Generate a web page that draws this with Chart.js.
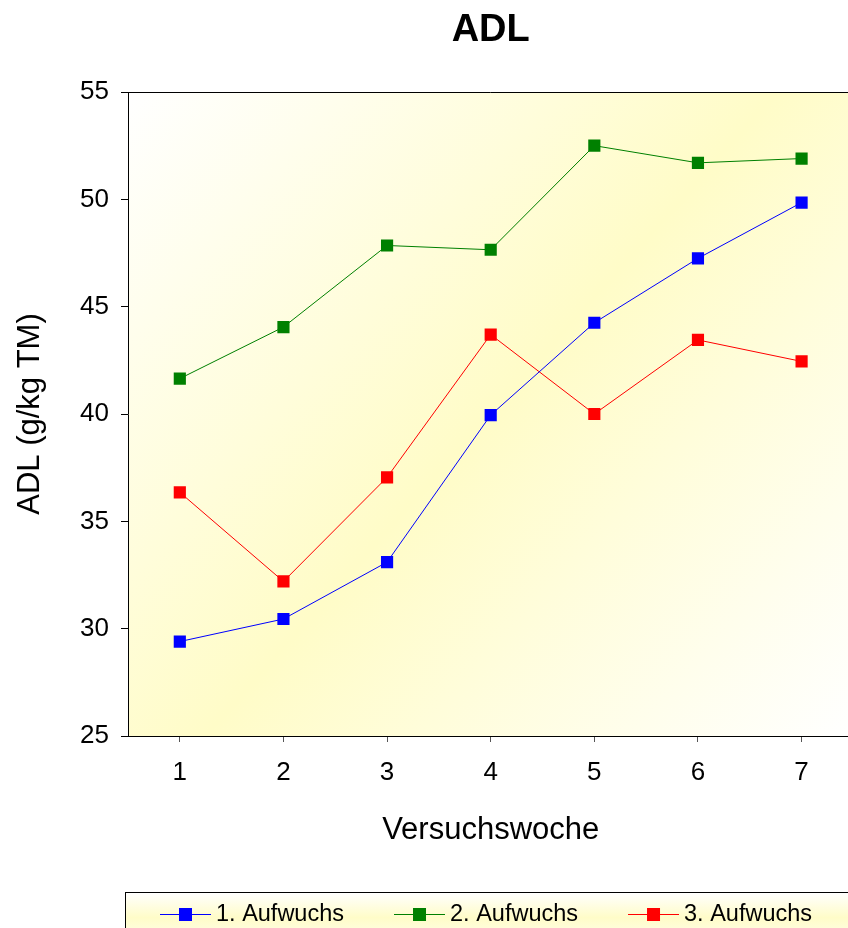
<!DOCTYPE html>
<html>
<head>
<meta charset="utf-8">
<title>ADL</title>
<script src="https://cdn.jsdelivr.net/npm/chart.js@4.4.1/dist/chart.umd.min.js"></script>
<style>
  html, body { margin: 0; padding: 0; background: #ffffff; overflow: hidden; }
  #wrap { width: 862px; height: 928px; }
</style>
</head>
<body>
<div id="wrap"><canvas id="c" width="862" height="928"></canvas></div>
<script>
// Versuchswochen (x-axis categories)
const weeks = ['1', '2', '3', '4', '5', '6', '7'];

// ADL content (g/kg TM) per growth
const aufwuchs1 = [29.4, 30.45, 33.1, 39.95, 44.25, 47.25, 49.85];
const aufwuchs2 = [41.65, 44.05, 47.85, 47.65, 52.5, 51.7, 51.9];
const aufwuchs3 = [36.35, 32.2, 37.05, 43.7, 40.0, 43.45, 42.45];

const seriesNames = ['1. Aufwuchs', '2. Aufwuchs', '3. Aufwuchs'];

// y-axis tick range
const yMin = 25;
const yMax = 55;
const yStep = 5;

const FONT = '"Liberation Sans", Arial, Helvetica, sans-serif';
const YELLOW = 'rgb(255, 252, 200)';

function series(label, data, color) {
  return {
    label: label,
    data: data,
    borderColor: color,
    backgroundColor: color,
    borderWidth: 1,
    pointStyle: 'rect',
    pointRadius: 8.6,
    pointHoverRadius: 8.6,
    pointBorderWidth: 0,
    tension: 0
  };
}

// Diagonal white-yellow-white fill behind the plot, plus the top frame line
const plotBackground = {
  id: 'plotBackground',
  beforeDraw(chart) {
    const { ctx, chartArea: a } = chart;
    const g = ctx.createLinearGradient(a.left, a.top, a.right, a.bottom);
    g.addColorStop(0, '#ffffff');
    g.addColorStop(0.5, YELLOW);
    g.addColorStop(1, '#ffffff');
    ctx.save();
    ctx.fillStyle = g;
    ctx.fillRect(a.left, a.top, a.right - a.left, a.bottom - a.top);
    ctx.restore();
  },
  afterDatasetsDraw(chart) {
    const { ctx, chartArea: a } = chart;
    ctx.save();
    ctx.strokeStyle = '#000';
    ctx.lineWidth = 1;
    ctx.beginPath();
    ctx.moveTo(a.left, a.top + 0.5);
    ctx.lineTo(a.right, a.top + 0.5);
    ctx.stroke();
    ctx.restore();
  }
};

// Framed legend strip under the chart: line + square marker + label
const legendBox = {
  id: 'legendBox',
  afterDraw(chart) {
    const { ctx } = chart;
    const boxX = 125.5, boxY = 892.5;
    const boxW = chart.width, boxH = 60;
    ctx.save();
    const g = ctx.createLinearGradient(0, boxY, 0, boxY + boxH);
    g.addColorStop(0, '#ffffff');
    g.addColorStop(0.42, YELLOW);
    g.addColorStop(1, '#ffffff');
    ctx.fillStyle = g;
    ctx.fillRect(boxX, boxY, boxW, boxH);
    ctx.strokeStyle = '#000';
    ctx.lineWidth = 1;
    ctx.strokeRect(boxX, boxY, boxW, boxH);

    ctx.font = '23.5px ' + FONT;
    ctx.textBaseline = 'middle';
    ctx.textAlign = 'left';
    const cy = 914;
    let x = 160;
    chart.data.datasets.forEach(ds => {
      const c = ds.borderColor;
      ctx.strokeStyle = c;
      ctx.lineWidth = 1;
      ctx.beginPath();
      ctx.moveTo(x, cy + 0.5);
      ctx.lineTo(x + 51, cy + 0.5);
      ctx.stroke();
      ctx.fillStyle = c;
      ctx.fillRect(x + 19, cy - 6, 13, 13);
      ctx.fillStyle = '#000';
      ctx.fillText(ds.label, x + 56, cy + 1);
      x += 56 + ctx.measureText(ds.label).width + 50;
    });
    ctx.restore();
  }
};

new Chart(document.getElementById('c'), {
  type: 'line',
  data: {
    labels: weeks,
    datasets: [
      series(seriesNames[0], aufwuchs1, '#0000ff'),
      series(seriesNames[1], aufwuchs2, '#008000'),
      series(seriesNames[2], aufwuchs3, '#ff0000')
    ]
  },
  options: {
    responsive: false,
    devicePixelRatio: 1,
    animation: false,
    events: [],
    layout: { padding: { left: 0, right: 0, top: 0, bottom: 72 } },
    plugins: {
      legend: { display: false },
      tooltip: { enabled: false },
      title: {
        display: true,
        text: 'ADL',
        fullSize: false,
        color: '#000',
        font: { family: FONT, size: 38, weight: 'bold', lineHeight: 1.2 },
        padding: { top: 8, bottom: 38.4 }
      }
    },
    scales: {
      x: {
        type: 'category',
        offset: true,
        border: { display: true, color: '#000', width: 1 },
        grid: { display: true, drawOnChartArea: false, drawTicks: true, tickLength: 6, color: '#555' },
        ticks: { color: '#000', padding: 15, font: { family: FONT, size: 26 } },
        title: {
          display: true,
          text: 'Versuchswoche',
          color: '#000',
          font: { family: FONT, size: 31, lineHeight: 1.2 },
          padding: { top: 0, bottom: 7 }
        },
        afterFit(scale) { scale.height = 120; }
      },
      y: {
        min: yMin,
        max: yMax,
        border: { display: true, color: '#000', width: 1 },
        grid: { display: true, drawOnChartArea: false, drawTicks: true, tickLength: 7, color: '#000' },
        ticks: { stepSize: yStep, color: '#000', padding: 12, font: { family: FONT, size: 26 } },
        title: {
          display: true,
          text: 'ADL (g/kg TM)',
          color: '#000',
          font: { family: FONT, size: 31, lineHeight: 1.2 },
          padding: { top: 12, bottom: 0 }
        },
        afterFit(scale) { scale.width = 128; }
      }
    }
  },
  plugins: [plotBackground, legendBox]
});
</script>
</body>
</html>
